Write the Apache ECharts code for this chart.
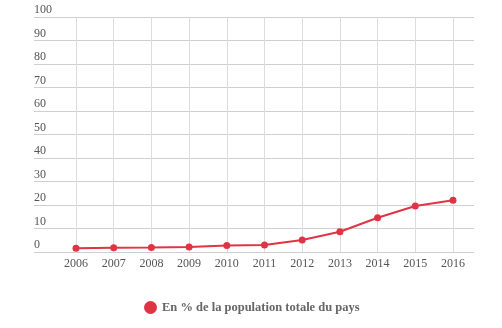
<!DOCTYPE html>
<html><head><meta charset="utf-8">
<script src="https://cdn.jsdelivr.net/npm/echarts@6/dist/echarts.min.js"></script>
<style>html,body{margin:0;padding:0;background:#fff}#c{width:502px;height:328px}</style>
</head><body><div id="c"></div>
<script>
var years = ['2006','2007','2008','2009','2010','2011','2012','2013','2014','2015','2016'];
var values = [1.6, 1.8, 1.9, 2.1, 2.8, 3.0, 5.1, 8.6, 14.6, 19.6, 22.0];
var seriesName = 'En % de la population totale du pays';
var yMin = 0, yMax = 100, yStep = 10;

var chart = echarts.init(document.getElementById('c'));
var font = 'Liberation Serif';
chart.setOption({
  animation: false,
  grid: [
    {left: 34, right: 28, top: 17, bottom: 76},
    {left: 76, right: 49, top: 17, bottom: 76}
  ],
  xAxis: [
    {gridIndex: 0, type: 'category', data: years, show: false},
    {gridIndex: 1, type: 'category', data: years, boundaryGap: false,
     axisLine: {show: false}, axisTick: {show: false},
     axisLabel: {color: '#555', fontFamily: font, fontSize: 12, margin: 6},
     splitLine: {show: true, lineStyle: {color: '#dcdcdc', width: 1}}}
  ],
  yAxis: [
    {gridIndex: 0, type: 'value', min: yMin, max: yMax, interval: yStep,
     axisLine: {show: false}, axisTick: {show: false},
     axisLabel: {inside: true, color: '#555', fontFamily: font, fontSize: 12,
       verticalAlign: 'bottom', padding: [0, 0, 1, 0], margin: 0},
     splitLine: {show: true, lineStyle: {color: '#cfcfcf', width: 1}}},
    {gridIndex: 1, type: 'value', min: yMin, max: yMax, interval: yStep, show: false,
     splitLine: {show: false}}
  ],
  legend: {
    left: 139, top: 296, icon: 'circle', itemWidth: 13, itemHeight: 13, itemGap: 10,
    textStyle: {color: '#666', fontFamily: font, fontSize: 12.5, fontWeight: 'bold'},
    data: [seriesName]
  },
  series: [{
    name: seriesName, type: 'line', xAxisIndex: 1, yAxisIndex: 1, data: values,
    symbol: 'circle', symbolSize: 7,
    itemStyle: {color: '#e03344'},
    lineStyle: {color: '#e03344', width: 2}
  }]
});
</script></body></html>
